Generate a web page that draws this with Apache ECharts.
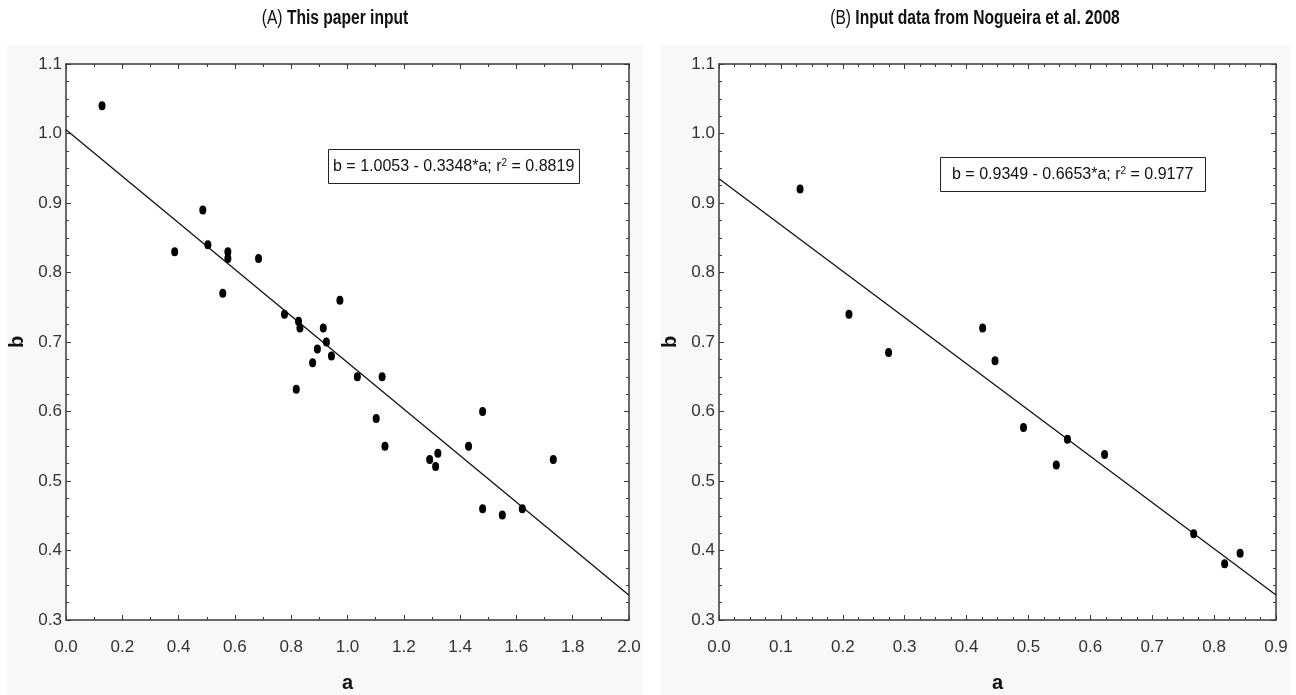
<!DOCTYPE html>
<html>
<head>
<meta charset="utf-8">
<script src="https://cdn.jsdelivr.net/npm/echarts@6/dist/echarts.min.js"></script>
<style>
  html, body { margin: 0; padding: 0; background: #fff; }
  #chart { width: 1296px; height: 695px; }
</style>
</head>
<body>
<div id="chart"></div>
<script>
// (A) this paper input
const aA = [0.128, 0.386, 0.486, 0.504, 0.575, 0.575, 0.557, 0.684, 0.776, 0.826, 0.831,
            0.914, 0.925, 0.973, 0.893, 0.943, 0.876, 0.818, 1.035, 1.123, 1.102, 1.133,
            1.292, 1.321, 1.313, 1.43, 1.48, 1.48, 1.55, 1.621, 1.731];
const bA = [1.04, 0.83, 0.89, 0.84, 0.83, 0.82, 0.77, 0.82, 0.74, 0.73, 0.72,
            0.72, 0.70, 0.76, 0.69, 0.68, 0.67, 0.632, 0.65, 0.65, 0.59, 0.55,
            0.531, 0.54, 0.521, 0.55, 0.60, 0.46, 0.451, 0.46, 0.531];
const fitA = [[0, 1.0053], [2, 0.3357]];
const labelA = "b = 1.0053 - 0.3348*a; r{sup|2} = 0.8819";

// (B) Nogueira et al. 2008
const aB = [0.131, 0.21, 0.274, 0.426, 0.446, 0.492, 0.545, 0.563, 0.623, 0.767, 0.817, 0.842];
const bB = [0.92, 0.74, 0.685, 0.72, 0.673, 0.577, 0.523, 0.56, 0.538, 0.424, 0.381, 0.396];
const fitB = [[0, 0.9349], [0.9, 0.3361]];
const labelB = "b = 0.9349 - 0.6653*a; r{sup|2} = 0.9177";

const FONT = "Liberation Sans, Arial, sans-serif";
const AXIS_COLOR = "#3a3a3a";

const zip = (xs, ys) => xs.map((x, i) => [x, ys[i]]);

// one axis of a boxed frame; labels only on bottom/left
const makeAxis = (gridIndex, position, min, max, interval, minorSplit, withLabels, name) => ({
    gridIndex: gridIndex,
    type: "value",
    position: position,
    min: min,
    max: max,
    interval: interval,
    name: withLabels ? name : "",
    nameLocation: "middle",
    nameGap: position === "bottom" ? 53 : 39,
    nameTextStyle: { fontFamily: FONT, fontWeight: "bold", fontSize: 20, color: "#111" },
    axisLine: { show: true, onZero: false, lineStyle: { color: AXIS_COLOR, width: 1.5 } },
    axisTick: { show: true, inside: true, length: 5, lineStyle: { color: AXIS_COLOR } },
    minorTick: { show: true, splitNumber: minorSplit, length: 3, lineStyle: { color: AXIS_COLOR } },
    axisLabel: {
        show: withLabels,
        fontFamily: FONT,
        fontSize: 17,
        color: "#333",
        margin: position === "bottom" ? 19 : 4,
        formatter: (v) => v.toFixed(1)
    },
    splitLine: { show: false }
});

const grids = [
    { left: 66, top: 64, width: 563, height: 556, show: true, backgroundColor: "#fff", borderWidth: 0, outerBoundsMode: "none" },
    { left: 719, top: 64, width: 557, height: 556, show: true, backgroundColor: "#fff", borderWidth: 0, outerBoundsMode: "none" }
];

const xAxes = [
    makeAxis(0, "bottom", 0, 2, 0.2, 2, true, "a"),
    makeAxis(0, "top", 0, 2, 0.2, 2, false, ""),
    makeAxis(1, "bottom", 0, 0.9, 0.1, 4, true, "a"),
    makeAxis(1, "top", 0, 0.9, 0.1, 4, false, "")
];
const yAxes = [
    makeAxis(0, "left", 0.3, 1.1, 0.1, 4, true, "b"),
    makeAxis(0, "right", 0.3, 1.1, 0.1, 4, false, ""),
    makeAxis(1, "left", 0.3, 1.1, 0.1, 4, true, "b"),
    makeAxis(1, "right", 0.3, 1.1, 0.1, 4, false, "")
];

const pointSeries = (xi, yi, data) => ({
    type: "scatter",
    xAxisIndex: xi,
    yAxisIndex: yi,
    data: data,
    symbol: "circle",
    symbolSize: [7, 9],
    itemStyle: { color: "#000", opacity: 1 },
    silent: true,
    z: 3
});

const fitSeries = (xi, yi, data) => ({
    type: "line",
    xAxisIndex: xi,
    yAxisIndex: yi,
    data: data,
    symbol: "none",
    lineStyle: { color: "#111", width: 1.3 },
    silent: true,
    z: 2
});

const boxTitle = (text, left, top, padding) => ({
    text: text,
    left: left,
    top: top,
    padding: padding,
    borderWidth: 1,
    borderColor: "#222",
    backgroundColor: "#fff",
    textStyle: {
        fontFamily: FONT,
        fontSize: 16,
        fontWeight: "normal",
        color: "#111",
        rich: {
            sup: { fontFamily: FONT, fontSize: 10, color: "#111", verticalAlign: "top", padding: [0, 0, 8, 0] }
        }
    }
});

// panel headings, squeezed horizontally to look like a narrow face
const headText = (tag, text, x) => ({
    type: "text",
    x: x,
    y: 18,
    scaleX: 0.78,
    style: {
        text: "{n|" + tag + " }{b|" + text + "}",
        align: "center",
        verticalAlign: "middle",
        rich: {
            n: { fontFamily: FONT, fontSize: 20, fontWeight: "normal", fill: "#111" },
            b: { fontFamily: FONT, fontSize: 20, fontWeight: "bold", fill: "#111" }
        }
    },
    z: 10
});

const chart = echarts.init(document.getElementById("chart"));

const option = {
    animation: false,
    backgroundColor: "#fff",
    graphic: [
        { type: "rect", left: 7, top: 45, shape: { width: 636, height: 650 }, style: { fill: "#f8f8f8" }, z: -10 },
        { type: "rect", left: 660, top: 45, shape: { width: 630, height: 650 }, style: { fill: "#f8f8f8" }, z: -10 },
        headText("(A)", "This paper input", 335),
        headText("(B)", "Input data from Nogueira et al. 2008", 975)
    ],
    title: [
        boxTitle(labelA, 328, 149, [9, 5, 9, 5]),
        boxTitle(labelB, 940, 157, [9, 12, 9, 12])
    ],
    grid: grids,
    xAxis: xAxes,
    yAxis: yAxes,
    series: [
        fitSeries(0, 0, fitA),
        pointSeries(0, 0, zip(aA, bA)),
        fitSeries(2, 2, fitB),
        pointSeries(2, 2, zip(aB, bB))
    ]
};

chart.setOption(option);
</script>
</body>
</html>
